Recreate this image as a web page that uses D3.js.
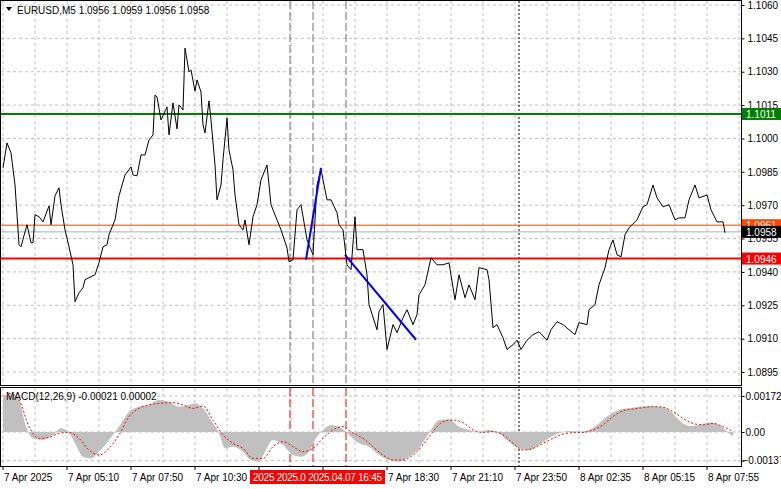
<!DOCTYPE html>
<html>
<head>
<meta charset="utf-8">
<script src="https://cdn.jsdelivr.net/npm/d3@7"></script>
<style>
  body { margin: 0; background: #fff; }
  text { font-family: "Liberation Sans", Arial, sans-serif; font-size: 10px; }
</style>
</head>
<body>
<svg id="chart" width="781" height="489"></svg>
<script>
// Close prices, [bar index, price] (M5 bars)
const closes = [
  [0,1.09868],[2,1.09980],[4,1.09935],[6,1.09791],[7,1.09657],[8,1.09522],[9,1.09513],[11,1.09580],
  [12,1.09612],[14,1.09531],[15,1.09531],[16,1.09657],[18,1.09648],[20,1.09625],[23,1.09697],[24,1.09612],
  [26,1.09742],[28,1.09778],[29,1.09702],[31,1.09589],[33,1.09513],[35,1.09432],[36,1.09266],[38,1.09306],
  [40,1.09329],[41,1.09365],[43,1.09374],[46,1.09387],[48,1.09441],[50,1.09513],[52,1.09522],[53,1.09567],
  [56,1.09634],[58,1.09742],[61,1.09836],[64,1.09872],[65,1.09836],[67,1.09832],[69,1.09926],[71,1.09926],
  [73,1.09993],[75,1.10016],[76,1.10195],[77,1.10187],[79,1.10083],[82,1.10142],[83,1.10016],[85,1.10160],
  [87,1.10043],[88,1.10151],[90,1.10128],[91,1.10406],[93,1.10299],[94,1.10308],[96,1.10213],[97,1.10263],
  [99,1.10209],[100,1.10061],[101,1.10025],[103,1.10169],[104,1.10083],[106,1.09881],[107,1.09724],[109,1.09791],
  [110,1.09904],[112,1.10092],[113,1.09948],[115,1.09859],[116,1.09746],[118,1.09612],[120,1.09589],[121,1.09634],
  [123,1.09522],[125,1.09648],[127,1.09702],[129,1.09814],[132,1.09881],[134,1.09702],[137,1.09634],[139,1.09589],
  [142,1.09508],[143,1.09446],[145,1.09455],[147,1.09679],[149,1.09702],[152,1.09544],[153,1.09522],[155,1.09477],
  [157,1.09791],[159,1.09859],[162,1.09724],[164,1.09724],[167,1.09666],[168,1.09612],[170,1.09589],[172,1.09432],
  [174,1.09410],[176,1.09648],[177,1.09500],[180,1.09500],[182,1.09387],[183,1.09253],[187,1.09140],[188,1.09221],
  [190,1.09253],[192,1.09051],[195,1.09163],[197,1.09127],[200,1.09194],[202,1.09230],[205,1.09163],[207,1.09208],
  [208,1.09297],[211,1.09342],[214,1.09464],[217,1.09432],[220,1.09432],[223,1.09441],[226,1.09275],[228,1.09387],
  [231,1.09284],[233,1.09342],[236,1.09275],[238,1.09419],[242,1.09410],[243,1.09365],[245,1.09149],[247,1.09163],
  [250,1.09104],[252,1.09051],[255,1.09073],[257,1.09093],[259,1.09051],[262,1.09093],[265,1.09118],[268,1.09131],
  [272,1.09093],[274,1.09140],[277,1.09176],[280,1.09163],[283,1.09140],[286,1.09118],[288,1.09172],[292,1.09163],
  [293,1.09230],[296,1.09253],[298,1.09342],[301,1.09419],[303,1.09500],[305,1.09544],[307,1.09477],[309,1.09468],
  [311,1.09567],[313,1.09598],[317,1.09634],[320,1.09693],[322,1.09702],[325,1.09791],[327,1.09733],[330,1.09693],
  [333,1.09702],[336,1.09634],[338,1.09643],[341,1.09643],[343,1.09724],[346,1.09791],[348,1.09733],[352,1.09746],
  [354,1.09679],[357,1.09625],[360,1.09625],[361,1.09576]
];

// MACD(12,26,9) histogram and signal, [bar index, value]
const macdHist = [
  [0,0.00177],[3,0.00177],[8,0.00153],[11,0.00041],[15,-0.00030],[20,-0.00038],[25,-0.00014],[29,0.00018],
  [33,-0.00003],[36,-0.00054],[40,-0.00118],[44,-0.00126],[48,-0.00094],[53,-0.00038],[58,0.00026],[63,0.00097],
  [68,0.00121],[73,0.00129],[78,0.00153],[83,0.00145],[88,0.00121],[93,0.00129],[96,0.00137],[100,0.00113],
  [104,0.00057],[108,-0.00006],[111,-0.00078],[115,-0.00070],[120,-0.00094],[124,-0.00134],[128,-0.00142],[131,-0.00094],
  [135,-0.00038],[140,-0.00062],[145,-0.00110],[149,-0.00118],[153,-0.00094],[156,-0.00038],[160,0.00010],[164,0.00034],
  [168,0.00026],[173,-0.00014],[178,-0.00054],[183,-0.00070],[188,-0.00110],[193,-0.00134],[198,-0.00142],[203,-0.00118],
  [208,-0.00078],[213,-0.00006],[218,0.00057],[223,0.00061],[228,0.00026],[233,0.00010],[238,0.00000],[243,0.00010],
  [248,-0.00006],[253,-0.00046],[258,-0.00078],[263,-0.00086],[268,-0.00062],[273,-0.00030],[278,-0.00006],[283,0.00005],
  [288,0.00002],[293,0.00010],[298,0.00041],[303,0.00081],[308,0.00105],[313,0.00113],[318,0.00121],[323,0.00124],
  [328,0.00121],[333,0.00105],[338,0.00057],[343,0.00029],[348,0.00034],[353,0.00045],[358,0.00034],[363,-0.00006],
  [365,-0.00022]
];
const macdSignal = [
  [3,0.00185],[8,0.00153],[13,0.00026],[18,-0.00030],[23,-0.00026],[28,-0.00006],[33,-0.00002],[38,-0.00030],
  [43,-0.00086],[48,-0.00110],[53,-0.00078],[58,-0.00014],[63,0.00073],[68,0.00113],[73,0.00129],[78,0.00137],
  [85,0.00140],[90,0.00129],[95,0.00113],[100,0.00124],[105,0.00057],[110,-0.00014],[115,-0.00054],[120,-0.00078],
  [125,-0.00126],[130,-0.00126],[135,-0.00070],[140,-0.00046],[145,-0.00070],[150,-0.00094],[155,-0.00078],[160,-0.00030],
  [165,0.00010],[170,0.00026],[175,-0.00006],[180,-0.00030],[185,-0.00070],[190,-0.00110],[195,-0.00134],[200,-0.00134],
  [205,-0.00110],[210,-0.00062],[215,0.00002],[220,0.00049],[225,0.00057],[230,0.00045],[235,0.00010],[240,-0.00002],
  [245,0.00002],[250,-0.00014],[255,-0.00054],[260,-0.00086],[265,-0.00078],[270,-0.00054],[275,-0.00030],[280,-0.00010],
  [285,-0.00003],[290,-0.00002],[295,0.00010],[300,0.00034],[305,0.00073],[310,0.00102],[315,0.00110],[320,0.00116],
  [325,0.00121],[330,0.00118],[335,0.00097],[340,0.00065],[345,0.00041],[350,0.00034],[355,0.00041],[360,0.00026],
  [365,0.00002]
];

const priceTicks = [1.1060, 1.1045, 1.1030, 1.1015, 1.1000, 1.0985, 1.0970, 1.0955, 1.0940, 1.0925, 1.0910, 1.0895];
const macdTicks = [0.00172, 0.00, -0.00137];
const timeLabels = ["7 Apr 2025", "7 Apr 05:10", "7 Apr 07:50", "7 Apr 10:30", null, null,
  "7 Apr 18:30", "7 Apr 21:10", "7 Apr 23:50", "8 Apr 02:35", "8 Apr 05:15", "8 Apr 07:55"];
const levels = { support: 1.0946, resistance: 1.1011, ask: 1.0961, bid: 1.0958 };
const trendLines = [
  [[151.5, 1.09455], [159, 1.09868]],
  [[171, 1.09477], [206.5, 1.09095]]
];
const dashedBars = [143.5, 155, 171.5];
const dottedBar = 258;

const svg = d3.select("#chart");
const W = 741;
const x = d3.scaleLinear().domain([0, 369]).range([3, 741]);
const y = d3.scaleLinear().domain([1.0895, 1.1060]).range([372, 5]);
const ym = d3.scaleLinear().domain([-0.00137, 0.00172]).range([460.7, 396]);

// grid
const grid = svg.append("g").attr("stroke", "#c0c0c0").attr("stroke-dasharray", "3,3");
for (let b = 0; b * 2 + 3 < W; b += 16) {
  const gx = x(b);
  grid.append("line").attr("x1", gx).attr("x2", gx).attr("y1", 1).attr("y2", 385);
  grid.append("line").attr("x1", gx).attr("x2", gx).attr("y1", 388).attr("y2", 466);
}
priceTicks.forEach(p => grid.append("line").attr("x1", 1).attr("x2", W).attr("y1", y(p)).attr("y2", y(p)));
macdTicks.forEach(v => grid.append("line").attr("x1", 1).attr("x2", W).attr("y1", ym(v)).attr("y2", ym(v)));

// vertical markers
dashedBars.forEach(b => {
  svg.append("line").attr("x1", x(b)).attr("x2", x(b)).attr("y1", 1).attr("y2", 385)
    .attr("stroke", "#707070").attr("stroke-dasharray", "8,3");
  svg.append("line").attr("x1", x(b)).attr("x2", x(b)).attr("y1", 388).attr("y2", 466)
    .attr("stroke", "red").attr("stroke-dasharray", "8,3");
});
svg.append("line").attr("x1", x(dottedBar)).attr("x2", x(dottedBar)).attr("y1", 1).attr("y2", 466)
  .attr("stroke", "black").attr("stroke-dasharray", "2,2");

// horizontal levels
svg.append("line").attr("x1", 1).attr("x2", W).attr("y1", y(levels.ask)).attr("y2", y(levels.ask)).attr("stroke", "#ff4500");
svg.append("line").attr("x1", 1).attr("x2", W).attr("y1", y(levels.bid)).attr("y2", y(levels.bid)).attr("stroke", "#b0b0b0");
svg.append("line").attr("x1", 1).attr("x2", W).attr("y1", y(levels.resistance)).attr("y2", y(levels.resistance)).attr("stroke", "green").attr("stroke-width", 2);
svg.append("line").attr("x1", 1).attr("x2", W).attr("y1", y(levels.support)).attr("y2", y(levels.support)).attr("stroke", "red").attr("stroke-width", 2);

// price line
svg.append("path").datum(closes)
  .attr("d", d3.line().x(d => x(d[0])).y(d => y(d[1])))
  .attr("fill", "none").attr("stroke", "black").attr("stroke-width", 1);

// trend lines
trendLines.forEach(t => svg.append("path").datum(t)
  .attr("d", d3.line().x(d => x(d[0])).y(d => y(d[1])))
  .attr("stroke", "#0000ff").attr("stroke-width", 2));

// MACD
svg.append("path").datum(macdHist)
  .attr("d", d3.area().x(d => x(d[0])).y0(ym(0)).y1(d => ym(d[1])).curve(d3.curveMonotoneX))
  .attr("fill", "#c0c0c0");
svg.append("path").datum(macdSignal)
  .attr("d", d3.line().x(d => x(d[0])).y(d => ym(d[1])).curve(d3.curveMonotoneX))
  .attr("fill", "none").attr("stroke", "red").attr("stroke-dasharray", "2,2");

// panel frames
svg.append("rect").attr("x", 0.5).attr("y", 0.5).attr("width", W).attr("height", 385).attr("fill", "none").attr("stroke", "black");
svg.append("rect").attr("x", 0.5).attr("y", 387.5).attr("width", W).attr("height", 79).attr("fill", "none").attr("stroke", "black");

// right axis
svg.append("g").attr("class", "pax").attr("transform", `translate(${W + 0.5},0)`)
  .call(d3.axisRight(y).tickValues(priceTicks).tickFormat(d3.format(".4f")).tickSize(3))
  .call(g => g.select(".domain").remove());
svg.append("g").attr("class", "max").attr("transform", `translate(${W + 0.5},0)`)
  .call(d3.axisRight(ym).tickValues(macdTicks).tickFormat(d => d === 0 ? "0.00" : d3.format(".5f")(d)).tickSize(3))
  .call(g => g.select(".domain").remove());
svg.selectAll(".tick text").attr("font-family", "Liberation Sans, Arial, sans-serif").attr("font-size", 10).attr("fill", "black");
svg.selectAll(".max .tick text").attr("font-size", 8).attr("x", d => d < 0 ? 1 : 4);

// price tags
function tag(v, fill, color) {
  const ty = y(v);
  svg.append("rect").attr("x", W + 1).attr("y", ty - 6).attr("width", 39).attr("height", 12).attr("fill", fill);
  svg.append("text").attr("x", W + 5).attr("y", ty + 4).attr("fill", color).text(v.toFixed(4));
}
tag(levels.resistance, "green", "white");
tag(levels.support, "red", "white");
tag(levels.ask, "#ff4500", "white");
tag(levels.bid, "black", "white");

// bottom time axis
timeLabels.forEach((t, i) => {
  const tx = x(i * 32);
  svg.append("line").attr("x1", tx).attr("x2", tx).attr("y1", 466).attr("y2", 470).attr("stroke", "black");
  if (t) svg.append("text").attr("x", tx + 1).attr("y", 481).text(t);
});
svg.append("rect").attr("x", 250).attr("y", 470).attr("width", 135).attr("height", 14).attr("fill", "red");
svg.append("text").attr("x", 253).attr("y", 481).attr("fill", "white").attr("font-size", 9.5)
  .attr("textLength", 129).text("2025 2025.0 2025.04.07 16:45");

// titles
svg.append("path").attr("d", "M6,7 L12,7 L9,11 Z").attr("fill", "black");
svg.append("text").attr("x", 17).attr("y", 14).text("EURUSD,M5  1.0956 1.0959 1.0956 1.0958");
svg.append("text").attr("x", 6).attr("y", 400).text("MACD(12,26,9) -0.00021 0.00002");
</script>
</body>
</html>
